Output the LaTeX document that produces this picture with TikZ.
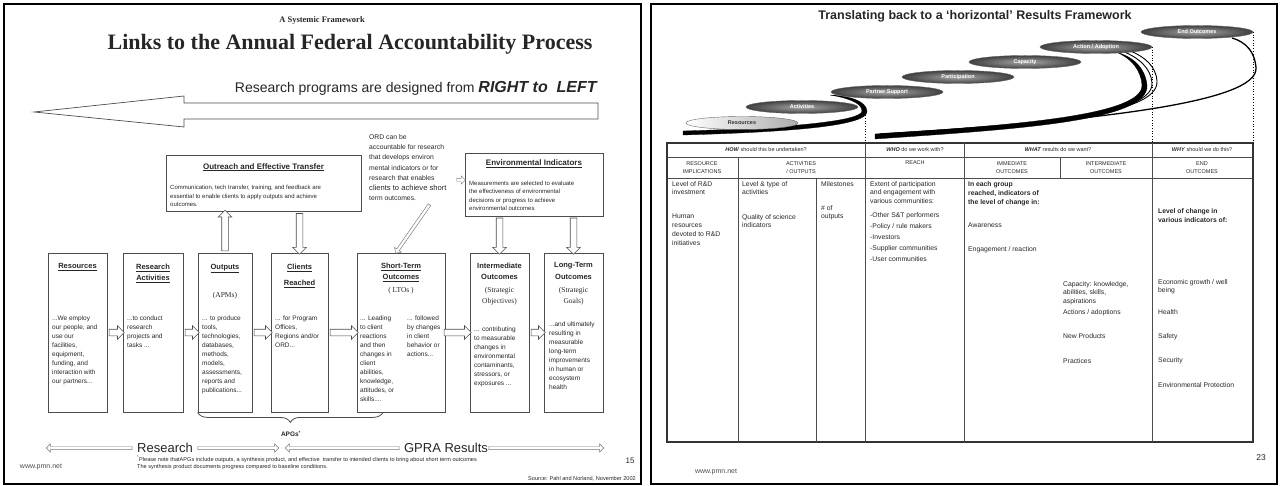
\documentclass[tikz,border=0pt]{standalone}
\usepackage{fontspec}
\setmainfont{Liberation Sans}
\newfontfamily\tnr{Liberation Serif}
\usetikzlibrary{positioning,calc,arrows.meta,shapes.geometric,shapes.arrows,decorations.pathreplacing}
\newcommand{\fsz}[2]{\fontsize{#1}{#2}\selectfont}

\begin{document}
\begin{tikzpicture}[x=1pt, y=-1pt,
  every node/.style={inner sep=0pt, text=black!85},
  frame/.style={draw, line width=1.4pt},
  stage/.style={draw=black!70, line width=0.8pt, minimum height=159pt, minimum width=#1},
  panel/.style={draw=black!70, line width=0.8pt},
  boxttl/.style={font=\fsz{7.5}{11.5}\bfseries, align=center},
  boxsub/.style={font=\tnr\fsz{7.5}{11}, align=center},
  boxtxt/.style={font=\fsz{6.5}{9}, align=left, anchor=north west},
  arr/.style={single arrow, draw=black!70, fill=white, inner xsep=0pt},
  blk/.style={to path={let \p1=(\tikztostart), \p2=(\tikztotarget),
      \n1={veclen(\x2-\x1,\y2-\y1)}, \n2={atan2(\y2-\y1,\x2-\x1)} in
      node[arr, line width=0.6pt, minimum height=\n1, inner ysep=3pt,
        single arrow head extend=3.5pt, rotate=\n2] at ($(\p1)!0.5!(\p2)$) {}}},
  sblk/.style={to path={let \p1=(\tikztostart), \p2=(\tikztotarget),
      \n1={veclen(\x2-\x1,\y2-\y1)}, \n2={atan2(\y2-\y1,\x2-\x1)} in
      node[arr, line width=0.45pt, draw=black!55, minimum height=\n1, inner ysep=1.3pt,
        single arrow head extend=2.6pt, rotate=\n2] at ($(\p1)!0.5!(\p2)$) {}}},
  oval/.style={ellipse, draw=black!60, minimum width=112pt, minimum height=13pt,
    font=\fsz{5.5}{6}\bfseries},
  darkoval/.style={oval, inner color=gray!70, outer color=black!75, text=white},
  lightoval/.style={oval, left color=white, right color=gray!65, text=black!80},
  hdr/.style={font=\fsz{5.5}{8.5}, align=center},
  cell/.style={font=\fsz{6.8}{8.5}, align=left, anchor=north west},
  swoosh/.style={fill=black, draw=black, line width=0.3pt}]

\useasboundingbox (0,0) rectangle (1285,486);

% ---------- left slide ----------
\draw[frame] (4,4) rectangle (641,484);
\node[font=\tnr\fsz{8.5}{10}\bfseries] (sysf) at (322,20) {A Systemic Framework};
\node[font=\tnr\fsz{22}{24}\bfseries] (title) at (350,44) {Links to the Annual Federal Accountability Process};
\node[anchor=east, font=\fsz{14}{16}] (rtl) at (598,88)
  {Research programs are designed from \fsz{16}{18}\textbf{\textit{RIGHT to~ LEFT}}};
\draw[line width=0.7pt, draw=black!70] (598,103) -- (184,103) -- (184,96) -- (34,112)
  -- (184,127) -- (184,119) -- (598,119) -- cycle;

\node[panel, minimum width=195pt, minimum height=56pt] (outr) at (263.5,183.5) {};
\node[font=\fsz{8}{9}\bfseries, below=8pt of outr.north] (outrT) {\underline{Outreach and Effective Transfer}};
\node[font=\fsz{6}{8.5}, align=left, anchor=north west] (outrB) at (170,185)
  {Communication, tech transfer, training, and feedback are\\essential to enable clients to apply outputs and achieve\\outcomes.};

\node[font=\fsz{6.8}{10.3}, align=left, anchor=north west] (ord) at (369,134)
  {ORD can be\\accountable for research\\that develops environ\\mental indicators or for\\research that enables\\{\fsz{7.6}{10.3}clients to achieve short}\\term outcomes.};

\node[panel, minimum width=138pt, minimum height=63pt] (env) at (534,184.5) {};
\node[font=\fsz{8}{9}\bfseries, below=7pt of env.north] (envT) {\underline{Environmental Indicators}};
\node[font=\fsz{6}{8.3}, align=left, anchor=north west] (envB) at (469,181)
  {Measurements are selected to evaluate\\the effectiveness of environmental\\decisions or progress to achieve\\environmental outcomes};

% stages
\node[stage=59pt] (res) at (77.5,332.5) {};
\node[stage=60pt] (ract) at (153,332.5) {};
\node[stage=54pt] (outp) at (225,332.5) {};
\node[stage=57pt] (cli) at (299.5,332.5) {};
\node[stage=88pt] (st) at (401,332.5) {};
\node[stage=59pt] (inter) at (499.5,332.5) {};
\node[stage=59pt] (lt) at (573.5,332.5) {};

\node[boxttl, below=11pt of res.north] (resT) {\underline{Resources}};
\node[boxttl, below=11pt of ract.north] (ractT) {\underline{Research}\\\underline{Activities}};
\node[boxttl, below=11pt of outp.north] (outpT) {\underline{Outputs}};
\node[boxsub, below=39pt of outp.north] (outpS) {(APMs)};
\node[boxttl, below=11pt of cli.north, font=\fsz{7.5}{16}\bfseries] (cliT) {\underline{Clients}\\\underline{Reached}};
\node[boxttl, below=10pt of st.north] (stT) {\underline{Short-Term}\\\underline{Outcomes}};
\node[boxsub, below=34pt of st.north] (stS) {( LTOs )};
\node[boxttl, below=10pt of inter.north] (interT) {Intermediate\\Outcomes};
\node[boxsub, below=34pt of inter.north] (interS) {(Strategic\\Objectives)};
\node[boxttl, below=10pt of lt.north] (ltT) {Long-Term\\Outcomes};
\node[boxsub, below=34pt of lt.north] (ltS) {(Strategic\\Goals)};

\node[boxtxt] (resB) at (52,316) {...We employ\\our people, and\\use our\\facilities,\\equipment,\\funding, and\\interaction with\\our partners...};
\node[boxtxt] (ractB) at (127,316) {...to conduct\\research\\projects and\\tasks ...};
\node[boxtxt] (outpB) at (202,316) {... to produce\\tools,\\technologies,\\databases,\\methods,\\models,\\assessments,\\reports and\\publications...};
\node[boxtxt] (cliB) at (275,316) {... for Program\\Offices,\\Regions and/or\\ORD...};
\node[boxtxt] (stB1) at (360,316) {... Leading\\to client\\reactions\\and then\\changes in\\client\\abilities,\\knowledge,\\attitudes, or\\skills....};
\node[boxtxt] (stB2) at (407,316) {... followed\\by changes\\in client\\behavior or\\actions...};
\node[boxtxt] (interB) at (474,327) {... contributing\\to measurable\\changes in\\environmental\\contaminants,\\stressors, or\\exposures ...};
\node[boxtxt] (ltB) at (549,322) {...and ultimately\\resulting in\\measurable\\long-term\\improvements\\in human or\\ecosystem\\health};

\path (res.east) to[blk] (ract.west);
\path (ract.east) to[blk] (outp.west);
\path (outp.east) to[blk] (cli.west);
\path (cli.east) to[blk] (st.west);
\path ([xshift=-3pt]st.east) to[blk] (inter.west);
\path (inter.east) to[blk] (lt.west);
\path (outp.north) to[blk] (outp.north |- outr.south);
\path (outr.south -| cli.north) to[blk] (cli.north);
\path (env.south -| inter.north) to[blk] (inter.north);
\path (env.south -| lt.north) to[blk] (lt.north);
\coordinate (ordR) at (456,180);
\path (ordR) to[sblk] (ordR -| env.west);
\coordinate (ordS) at (430,204);
\path (ordS) to[sblk] ([xshift=-5pt]st.north);

\draw[black!70, line width=0.8pt, decorate, decoration={brace, mirror, amplitude=10pt}]
  (outp.south west) -- ([xshift=-18pt]st.south);
\node[font=\fsz{6.5}{8}\bfseries] (apgs) at (291,434) {APGs\textsuperscript{*}};

\node[font=\fsz{13}{14}] (research) at (165,448) {Research};
\node[font=\fsz{13}{14}] (gpra) at (446,448) {GPRA Results};
\coordinate (rL) at (47,448);
\coordinate (rR) at (278,448);
\coordinate (gL) at (286,448);
\coordinate (gR) at (603,448);
\path ([xshift=-4pt]research.west) to[sblk] (rL);
\path ([xshift=4pt]research.east) to[sblk] (rR);
\path ([xshift=-4pt]gpra.west) to[sblk] (gL);
\path (gpra.east) to[sblk] (gR);

\node[font=\fsz{5.6}{7.5}, align=left, anchor=north west] (note) at (137,456)
  {\textsuperscript{*}Please note thatAPGs include outputs, a synthesis product, and effective~ transfer to intended clients to bring about short term outcomes\\The synthesis product documents progress compared to baseline conditions.};
\node[font=\fsz{7}{8}, text=black!70] (wwwL) at (41,467) {www.pmn.net};
\node[font=\fsz{8}{9}] (pgL) at (630,461) {15};
\node[anchor=east, font=\fsz{5.6}{7}] (src) at (636,479) {Source: Pahl and Norland, November 2002};

% ---------- right slide ----------
\draw[frame] (651,4) rectangle (1277,484);
\node[font=\fsz{12.5}{14}\bfseries] (rtitle) at (975,16) {Translating back to a `horizontal' Results Framework};

% swooshes
\draw[swoosh] (683,135) .. controls (790,132) and (869,126) .. (867,111)
  .. controls (866,101) and (850,96) .. (830,95)
  .. controls (848,98) and (862,103) .. (862,111)
  .. controls (862,121) and (790,128) .. (683,131) -- cycle;
\draw[swoosh] (875,139) .. controls (1020,129) and (1150,121) .. (1147,85)
  .. controls (1145,68) and (1134,57) .. (1116,52)
  .. controls (1131,58) and (1141,70) .. (1142,85)
  .. controls (1143,115) and (1020,125) .. (875,134) -- cycle;
\draw[line width=0.9pt] (1010,125) .. controls (1120,114) and (1153,101) .. (1152,83)
  .. controls (1151,69) and (1140,58) .. (1122,51);
\draw[line width=0.9pt] (1040,122) .. controls (1130,112) and (1158,98) .. (1157,81)
  .. controls (1156,67) and (1146,57) .. (1128,50);
\draw[line width=1.3pt] (880,134) .. controls (1100,121) and (1258,102) .. (1256,68)
  .. controls (1255,52) and (1246,42) .. (1232,38);

\node[lightoval] (eres) at (742,123) {Resources};
\node[darkoval] (eact) at (802,107) {Activities};
\node[darkoval] (epart) at (887,92) {Partner Support};
\node[darkoval] (epcp) at (958,77) {Participation};
\node[darkoval] (ecap) at (1025,62) {Capacity};
\node[darkoval] (eadopt) at (1096,47) {Action / Adoption};
\node[darkoval] (eend) at (1197,32) {End Outcomes};

% table
\draw[line width=1.1pt, draw=black!80] (667,143) rectangle (1253,442);
\draw[black!70] (667,157) -- (1253,157);
\draw[black!70] (667,178) -- (1253,178);
\foreach \x in {865,964,1152} \draw[black!70, line width=0.7pt] (\x,143) -- (\x,442);
\draw[black!70, line width=0.7pt] (738,157) -- (738,442);
\draw[black!70, line width=0.7pt] (816,178) -- (816,442);
\draw[black!70] (1060,157) -- (1060,178);

\coordinate (tblA) at (865,143);
\draw[dotted, line width=0.7pt] (tblA) -- ++(0,-31);
\draw[dotted, line width=0.7pt] (eadopt.east) -- (eadopt.east |- tblA);
\draw[dotted, line width=0.7pt] (eend.east) -- (eend.east |- tblA);

\node[hdr] (hHow) at (766,150) {\textbf{\textit{HOW}} should this be undertaken?};
\node[hdr] (hWho) at (915,150) {\textbf{\textit{WHO}} do we work with?};
\node[hdr] (hWhat) at (1058,150) {\textbf{\textit{WHAT}} results do we want?};
\node[hdr] (hWhy) at (1202,150) {\textbf{\textit{WHY}} should we do this?};

\node[hdr] (cRes) at (702,167.5) {RESOURCE\\IMPLICATIONS};
\node[hdr] (cAct) at (801,167.5) {ACTIVITIES\\/ OUTPUTS};
\node[hdr] (cReach) at (915,163) {REACH};
\node[hdr] (cImm) at (1012,167.5) {IMMEDIATE\\OUTCOMES};
\node[hdr] (cInt) at (1106,167.5) {INTERMEDIATE\\OUTCOMES};
\node[hdr] (cEnd) at (1202,167.5) {END\\OUTCOMES};

\node[cell] (t1a) at (672,181) {Level of R\&D\\investment};
\node[cell, font=\fsz{6.8}{9}] (t1b) at (672,214) {Human\\resources\\devoted to R\&D\\initiatives};
\node[cell] (t2a) at (742,181) {Level \& type of\\activities};
\node[cell] (t2b) at (742,214) {Quality of science\\indicators};
\node[cell] (t3a) at (821,181) {Milestones};
\node[cell] (t3b) at (821,205) {\# of\\outputs};
\node[cell] (t4a) at (870,181) {Extent of participation\\and engagement with\\various communities:};
\node[cell, font=\fsz{6.8}{11}] (t4b) at (870,212) {-Other S\&T performers\\-Policy / rule makers\\-Investors\\-Supplier communities\\-User communities};
\node[cell, font=\fsz{6.8}{9}\bfseries] (t5a) at (968,181) {In each group\\reached, indicators of\\the level of change in:};
\node[cell] (t5b) at (968,223) {Awareness};
\node[cell] (t5c) at (968,246) {Engagement / reaction};
\node[cell] (t6a) at (1063,281) {Capacity: knowledge,\\abilities, skills,\\aspirations};
\node[cell, font=\fsz{6.8}{24.5}] (t6b) at (1063,309) {Actions / adoptions\\New Products\\Practices};
\node[cell, font=\fsz{6.8}{9}\bfseries] (t7a) at (1158,208) {Level of change in\\various indicators of:};
\node[cell] (t7b) at (1158,279) {Economic growth / well\\being};
\node[cell, font=\fsz{6.8}{24.3}] (t7c) at (1158,309) {Health\\Safety\\Security\\Environmental Protection};

\node[font=\fsz{7}{8}, text=black!70] (wwwR) at (716,472) {www.pmn.net};
\node[font=\fsz{8.5}{9}] (pgR) at (1261,458) {23};
\end{tikzpicture}
\end{document}
